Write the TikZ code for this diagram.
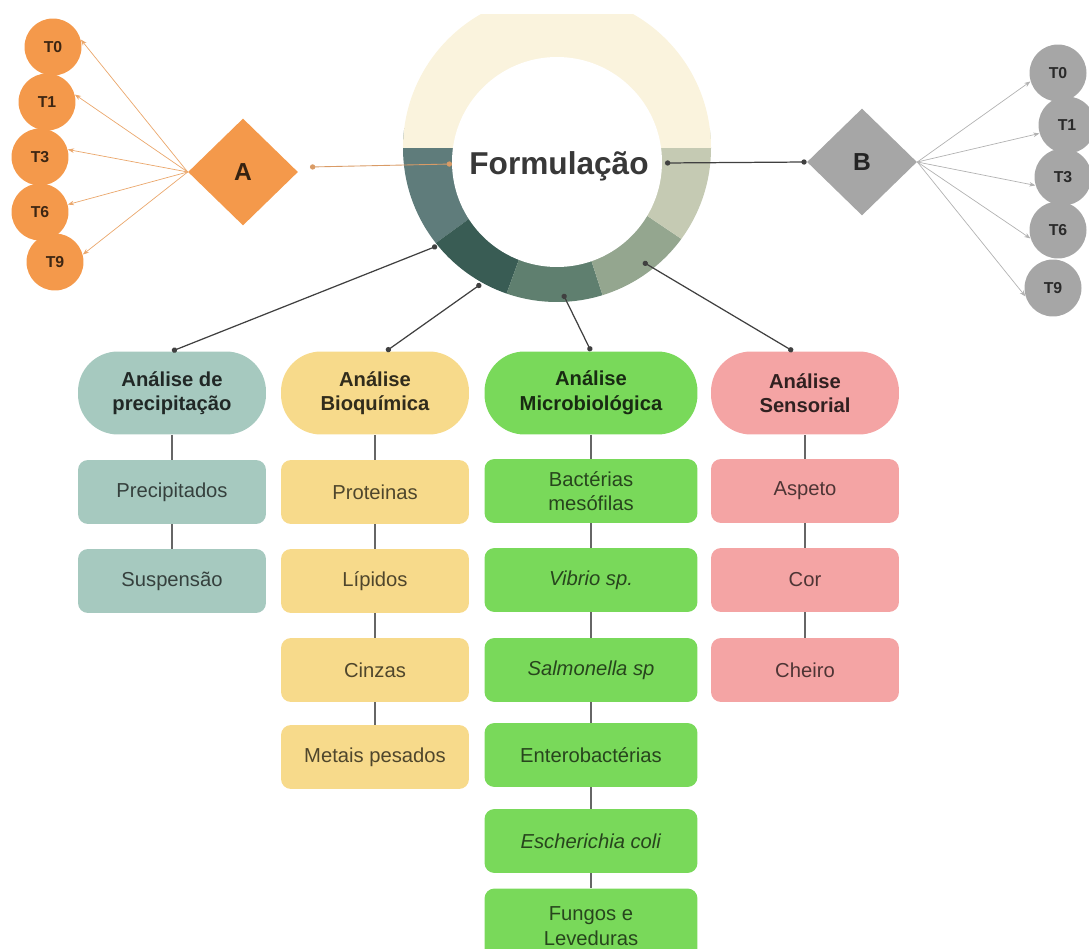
\documentclass[tikz,border=0pt]{standalone}
\usepackage{fontspec}
\setmainfont{Liberation Sans}
\usetikzlibrary{shapes.geometric,arrows.meta}

\definecolor{ringcream}{HTML}{FAF3DD}
\definecolor{segone}{HTML}{5F7C7B}
\definecolor{segtwo}{HTML}{395C54}
\definecolor{segthree}{HTML}{5F7F6F}
\definecolor{segfour}{HTML}{94A68F}
\definecolor{segfive}{HTML}{C5CAB3}
\definecolor{tOrange}{HTML}{F4994B}
\definecolor{tGrey}{HTML}{A6A6A6}
\definecolor{precip}{HTML}{A6C9BF}
\definecolor{bioq}{HTML}{F7DA8B}
\definecolor{micro}{HTML}{79D95A}
\definecolor{sens}{HTML}{F4A4A4}

\begin{document}
\begin{tikzpicture}[x=0.02cm, y=-0.02cm,
    time node/.style={circle,fill=#1,minimum size=1.14cm,inner sep=0pt,
                      text=#1!25!black,font=\bfseries\fontsize{9}{9}\selectfont},
    choice node/.style={diamond,fill=#1,minimum width=2.2cm,minimum height=2.14cm,inner sep=0pt,
                        text=#1!22!black,font=\bfseries\fontsize{14}{14}\selectfont},
    head node/.style={rectangle,rounded corners=0.8cm,fill=#1,minimum width=3.76cm,minimum height=1.66cm,
                      align=center,text=#1!20!black,font=\bfseries\fontsize{11.5}{14}\selectfont},
    item node/.style={rectangle,rounded corners=0.2cm,fill=#1,minimum width=3.76cm,minimum height=1.28cm,
                      align=center,text=#1!32!black,font=\fontsize{11.5}{14}\selectfont},
    link/.style={draw=black!60,line width=0.7pt},
    ring link/.style={draw=black!75,line width=0.7pt,{Circle[length=3pt]}-{Circle[length=3pt]}},
    time arrow/.style={draw=#1,line width=0.4pt,-{Stealth[length=3.5pt,width=2.6pt]}}]

    \useasboundingbox (0,0) rectangle (1089,949);

    % ring round the formulation
    \begin{scope}
        \clip (0,15) rectangle (1089,949);
        \clip (557,148) circle (154);
        \fill[segone]   (557,155) -- ++(190:260) arc[start angle=190,end angle=144,radius=260] -- cycle;
        \fill[segtwo]   (557,155) -- ++(144:260) arc[start angle=144,end angle=110,radius=260] -- cycle;
        \fill[segthree] (557,155) -- ++(110:260) arc[start angle=110,end angle=72,radius=260] -- cycle;
        \fill[segfour]  (557,155) -- ++(72:260) arc[start angle=72,end angle=34,radius=260] -- cycle;
        \fill[segfive]  (557,155) -- ++(34:260) arc[start angle=34,end angle=-10,radius=260] -- cycle;
        \fill[ringcream] (380,-20) rectangle (740,148);
    \end{scope}
    \fill[white] (557,162) circle (105);

    \node[font=\bfseries\fontsize{18}{18}\selectfont,text=black!78] (form) at (559,166) {Formulação};
    \coordinate (fA) at (452,164);
    \coordinate (fB) at (665,163);
    \coordinate (r1) at (437,246);
    \coordinate (r2) at (481,284);
    \coordinate (r3) at (563,294);
    \coordinate (r4) at (643,262);

    % left branch
    \node[choice node=tOrange] (A) at (243,172) {A};
    \coordinate (dA) at (310,167);
    \node[time node=tOrange] (a0) at (53,47) {T0};
    \node[time node=tOrange] (a1) at (47,102) {T1};
    \node[time node=tOrange] (a3) at (40,157) {T3};
    \node[time node=tOrange] (a6) at (40,212) {T6};
    \node[time node=tOrange] (a9) at (55,262) {T9};

    % right branch
    \node[choice node=tGrey] (B) at (862,162) {B};
    \node[time node=tGrey] (b0) at (1058,73) {T0};
    \node[time node=tGrey] (b1) at (1067,125) {T1};
    \node[time node=tGrey] (b3) at (1063,177) {T3};
    \node[time node=tGrey] (b6) at (1058,230) {T6};
    \node[time node=tGrey] (b9) at (1053,288) {T9};

    % analyses
    \node[head node=precip] (h1) at (172,393) {Análise de\\precipitação};
    \node[head node=bioq] (h2) at (375,393) {Análise\\Bioquímica};
    \node[head node=micro,minimum width=4.26cm] (h3) at (591,393) {Análise\\Microbiológica};
    \node[head node=sens] (h4) at (805,393) {Análise\\Sensorial};

    \node[item node=precip] (p1) at (172,492) {Precipitados};
    \node[item node=precip] (p2) at (172,581) {Suspensão};

    \node[item node=bioq] (q1) at (375,492) {Proteinas};
    \node[item node=bioq] (q2) at (375,581) {Lípidos};
    \node[item node=bioq] (q3) at (375,670) {Cinzas};
    \node[item node=bioq] (q4) at (375,757) {Metais pesados};

    \node[item node=micro,minimum width=4.26cm] (m1) at (591,491) {Bactérias\\mesófilas};
    \node[item node=micro,minimum width=4.26cm] (m2) at (591,580) {\textit{Vibrio sp.}};
    \node[item node=micro,minimum width=4.26cm] (m3) at (591,670) {\textit{Salmonella sp}};
    \node[item node=micro,minimum width=4.26cm] (m4) at (591,755) {Enterobactérias};
    \node[item node=micro,minimum width=4.26cm] (m5) at (591,841) {\textit{Escherichia coli}};
    \node[item node=micro,minimum width=4.26cm,minimum height=1.5cm] (m6) at (591,926) {Fungos e\\Leveduras};

    \node[item node=sens] (s1) at (805,491) {Aspeto};
    \node[item node=sens] (s2) at (805,580) {Cor};
    \node[item node=sens] (s3) at (805,670) {Cheiro};

    % connectors
    \draw[ring link,draw=tOrange!85!black!80,line width=0.5pt] (fA) -- (dA);
    \draw[ring link] (fB) -- (B.west);
    \draw[ring link] (r1) -- (h1.north);
    \draw[ring link] (r2) -- (h2.75);
    \draw[ring link] (r3) -- (h3.north);
    \draw[ring link] (r4) -- (h4.106);

    \draw[time arrow=tOrange!70!brown!80] (A.west) -- (a0.15);
    \draw[time arrow=tOrange!70!brown!80] (A.west) -- (a1.15);
    \draw[time arrow=tOrange!70!brown!80] (A.west) -- (a3.15);
    \draw[time arrow=tOrange!70!brown!80] (A.west) -- (a6.15);
    \draw[time arrow=tOrange!70!brown!80] (A.west) -- (a9.15);

    \draw[time arrow=black!30] (B.east) -- (b0.197);
    \draw[time arrow=black!30] (B.east) -- (b1.197);
    \draw[time arrow=black!30] (B.east) -- (b3.197);
    \draw[time arrow=black!30] (B.east) -- (b6.197);
    \draw[time arrow=black!30] (B.east) -- (b9.197);

    \path[link] (h1) edge (p1) (p1) edge (p2)
                (h2) edge (q1) (q1) edge (q2) (q2) edge (q3) (q3) edge (q4)
                (h3) edge (m1) (m1) edge (m2) (m2) edge (m3) (m3) edge (m4) (m4) edge (m5) (m5) edge (m6)
                (h4) edge (s1) (s1) edge (s2) (s2) edge (s3);
\end{tikzpicture}
\end{document}
